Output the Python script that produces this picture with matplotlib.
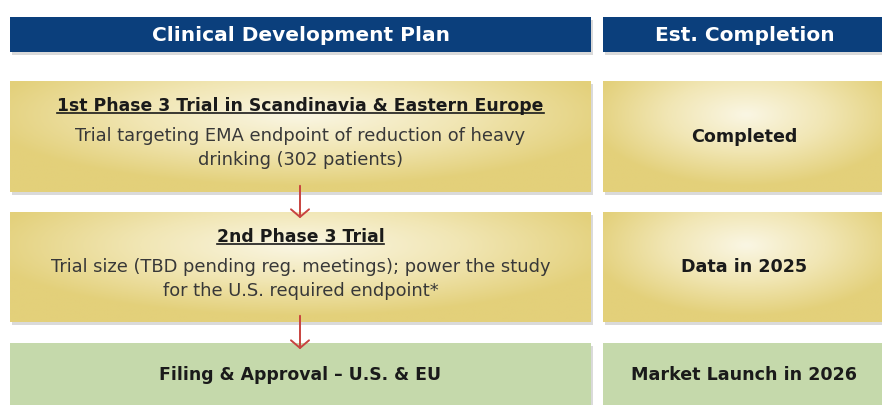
import numpy as np
import matplotlib
matplotlib.use("Agg")
from matplotlib import pyplot as plt
from matplotlib.patches import Rectangle
from matplotlib.colors import LinearSegmentedColormap

W, H = 882, 405

headers = ["Clinical Development Plan", "Est. Completion"]
titles = ["1st Phase 3 Trial in Scandinavia & Eastern Europe", "2nd Phase 3 Trial", None]
bodies = ["Trial targeting EMA endpoint of reduction of heavy\ndrinking (302 patients)",
          "Trial size (TBD pending reg. meetings); power the study\nfor the U.S. required endpoint*",
          "Filing & Approval \u2013 U.S. & EU"]
completions = ["Completed", "Data in 2025", "Market Launch in 2026"]
row_kind = ["gold", "gold", "green"]

NAVY = "#0b3f7c"
GREEN = "#c5d9ab"
ARROW = "#c8433f"
gold_cmap = LinearSegmentedColormap.from_list("gold", ["#faf6e3", "#f1e6b4", "#e3d07a"])

LEFT = (10, 591)
RIGHT = (603, 890)
HEADER_Y = (17, 52)
ROWS_Y = [(81, 192), (212, 322), (343, 410)]

plt.rcParams['font.family'] = ['DejaVu Sans']

fig = plt.figure(figsize=(W / 100, H / 100), dpi=100)
ax = fig.add_axes([0, 0, 1, 1])
ax.set_xlim(0, W)
ax.set_ylim(H, 0)
ax.axis("off")


def shadow(x0, x1, y0, y1):
    ax.add_patch(Rectangle((x0 + 2, y0 + 3), x1 - x0, y1 - y0, color="#bdbdbd", alpha=0.55, lw=0, zorder=1))


def gold_box(x0, x1, y0, y1):
    shadow(x0, x1, y0, y1)
    nx, ny = 200, 80
    xs = np.linspace(-1, 1, nx)
    ys = np.linspace(-1, 1, ny)
    gx, gy = np.meshgrid(xs, ys)
    r = np.sqrt((gx / 1.1) ** 2 + ((gy + 0.4) / 1.3) ** 2)
    ax.imshow(np.clip(r, 0, 1), cmap=gold_cmap, extent=(x0, x1, y1, y0), aspect="auto",
              interpolation="bilinear", zorder=2)


def flat_box(x0, x1, y0, y1, color):
    shadow(x0, x1, y0, y1)
    ax.add_patch(Rectangle((x0, y0), x1 - x0, y1 - y0, color=color, lw=0, zorder=2))


# header bars
for (x0, x1), label in zip([LEFT, RIGHT], headers):
    flat_box(x0, x1, HEADER_Y[0], HEADER_Y[1], NAVY)
    cx = (x0 + min(x1, W)) / 2 + (2 if x1 > W else 0)
    ax.text(cx, sum(HEADER_Y) / 2 + 1, label, color="white", fontsize=14.5, fontweight="bold",
            ha="center", va="center", zorder=5)

underlines = []
for i, (y0, y1) in enumerate(ROWS_Y):
    if row_kind[i] == "gold":
        gold_box(LEFT[0], LEFT[1], y0, y1)
        gold_box(RIGHT[0], RIGHT[1], y0, y1)
    else:
        flat_box(LEFT[0], LEFT[1], y0, y1, GREEN)
        flat_box(RIGHT[0], RIGHT[1], y0, y1, GREEN)

    lx = sum(LEFT) / 2
    if titles[i]:
        t = ax.text(lx, y0 + 25, titles[i], fontsize=12.4, fontweight="bold", color="#1a1a1a",
                    ha="center", va="center", zorder=5)
        underlines.append(t)
        ax.text(lx, y0 + 67, bodies[i], fontsize=12.9, color="#383838", ha="center", va="center",
                linespacing=1.38, zorder=5)
        cy = (y0 + y1) / 2
    else:
        cy = 375
        ax.text(lx, cy, bodies[i], fontsize=12.4, fontweight="bold", color="#1a1a1a",
                ha="center", va="center", zorder=5)
    ax.text(744, cy, completions[i], fontsize=12.6, fontweight="bold", color="#1a1a1a",
            ha="center", va="center", zorder=5)

# arrows between stages
for ya, yb in [(183, 221), (313, 352)]:
    ax.annotate("", xy=(300, yb), xytext=(300, ya),
                arrowprops=dict(arrowstyle="->,head_length=0.55,head_width=0.65", color=ARROW, lw=1.4),
                zorder=6)

# underline the stage titles
fig.canvas.draw()
renderer = fig.canvas.get_renderer()
inv = ax.transData.inverted()
for t in underlines:
    bb = t.get_window_extent(renderer)
    (xa, ya), (xb, yb) = inv.transform([(bb.x0, bb.y0), (bb.x1, bb.y1)])
    ax.plot([xa, xb], [ya - 2, ya - 2], color="#1a1a1a", lw=1.2, zorder=5)

fig.savefig("out.png", dpi=100)
